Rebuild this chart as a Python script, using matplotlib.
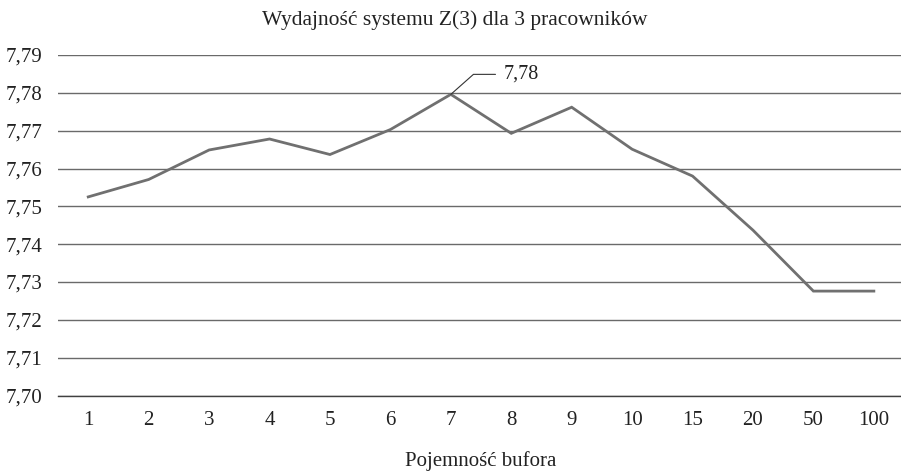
import matplotlib
matplotlib.use("Agg")
import matplotlib.pyplot as plt
from matplotlib.ticker import FuncFormatter

categories = ["1", "2", "3", "4", "5", "6", "7", "8", "9", "10", "15", "20", "50", "100"]
values = [7.7525, 7.7571, 7.7649, 7.7678, 7.7637, 7.7703, 7.7796, 7.7693, 7.7762,
          7.7651, 7.7580, 7.7437, 7.7276, 7.7276]
yticks = [7.70, 7.71, 7.72, 7.73, 7.74, 7.75, 7.76, 7.77, 7.78, 7.79]
title = "Wydajność systemu Z(3) dla 3 pracowników"
xlabel = "Pojemność bufora"
peak_label = "7,78"

plt.rcParams['font.family'] = ['Liberation Serif', 'DejaVu Serif']

fig = plt.figure(figsize=(9.01, 4.73), dpi=100)
ax = fig.add_axes([0.0644, 0.1638, 0.939, 0.7199])

x = list(range(len(categories)))
ax.plot(x, values, color='#707070', linewidth=2.0, solid_joinstyle='miter', zorder=3)

ax.set_xlim(-0.5, len(categories) - 0.5)
ax.set_ylim(7.70, 7.79)
ax.set_yticks(yticks)
ax.yaxis.set_major_formatter(FuncFormatter(lambda v, p: f"{v:.2f}".replace('.', ',')))
ax.set_xticks(x)
ax.set_xticklabels(categories)

ax.grid(axis='y', color='#6a6a6a', linewidth=1.0)
ax.set_axisbelow(True)
for s in ['top', 'right', 'left']:
    ax.spines[s].set_visible(False)
ax.spines['bottom'].set_color('#404040')
ax.spines['bottom'].set_linewidth(1.0)
ax.tick_params(axis='both', length=0, labelsize=15, colors='#222222')
ax.tick_params(axis='x', pad=11)
ax.tick_params(axis='y', pad=11)

fig.text(455 / 901, 1 - 20 / 473, title, fontsize=15.5, color='#222222',
         ha='center', va='center')
ax.set_xlabel(xlabel, fontsize=15, color='#222222', labelpad=15)

ipk = values.index(max(values))
ax.annotate(peak_label, xy=(x[ipk], values[ipk]), xytext=(53, 20),
            textcoords='offset pixels', ha='left', va='center', fontsize=14.5,
            color='#222222',
            arrowprops=dict(arrowstyle='-', color='#333333', linewidth=0.8,
                            connectionstyle='angle,angleA=0,angleB=41.5,rad=0',
                            shrinkA=4, shrinkB=0, relpos=(0, 0.5)))

fig.savefig("out.png", dpi=100)
